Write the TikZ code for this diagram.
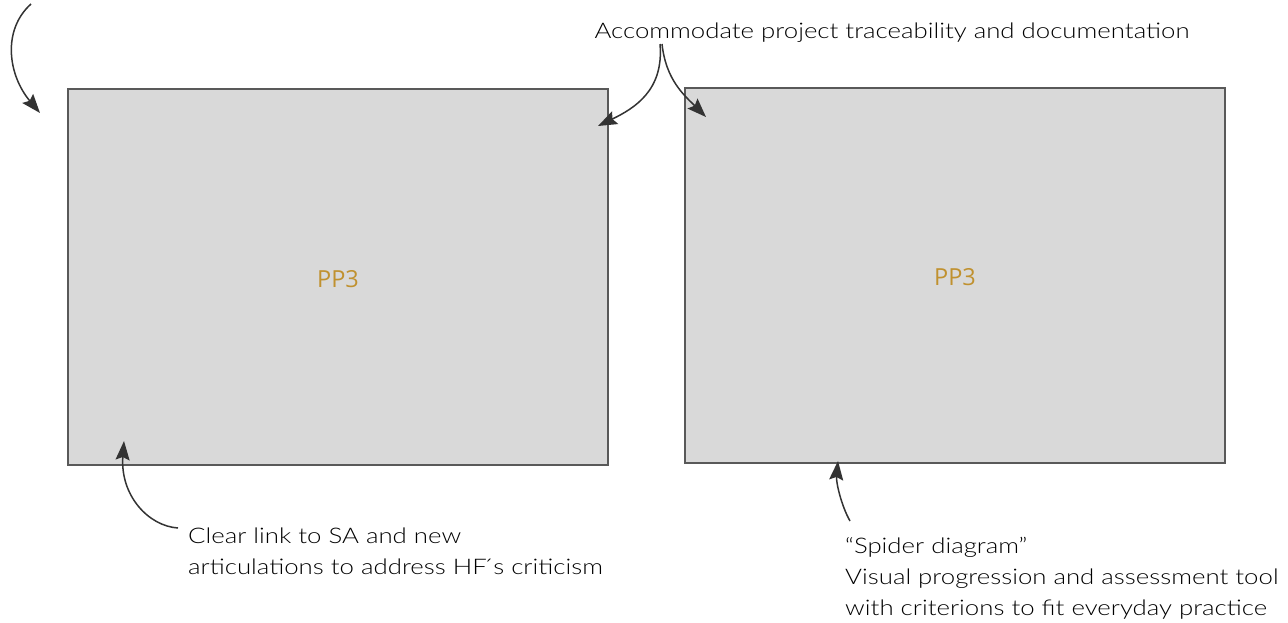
\documentclass[tikz,border=0pt]{standalone}
\usepackage{fontspec}
\setmainfont{Lato Light}[FakeStretch=1.2]
\newfontfamily\labelfont{Open Sans}
\usetikzlibrary{arrows.meta}
\definecolor{boxfill}{HTML}{D9D9D9}
\definecolor{boxline}{HTML}{595959}
\definecolor{gold}{HTML}{C0912F}
\definecolor{ink}{HTML}{333333}
\tikzset{
  panel/.style={draw=boxline, line width=1.2pt, fill=boxfill},
  pplabel/.style={text=gold, font=\labelfont\fontsize{23.5}{28}\selectfont},
  note/.style={text=black, font=\fontsize{21.5}{31}\selectfont, align=left, inner sep=0pt},
  callout/.style={draw=ink, line width=1.5pt, -{Stealth[length=19pt,width=14pt,inset=3pt]}}
}
\begin{document}
\begin{tikzpicture}[x=1pt,y=-1pt]
\useasboundingbox (0,0) rectangle (1288,622);
% panels
\draw[panel] (68,89) rectangle (608,465);
\draw[panel] (685,88) rectangle (1225,463);
\coordinate (p1nw) at (40,113);
\coordinate (p1ne) at (598,126);
\coordinate (p1sw) at (124,441);
\coordinate (p2nw) at (706,117);
\coordinate (p2s) at (838,461);
\node[pplabel] (pa) at (338,279) {PP3};
\node[pplabel] (pb) at (955,277) {PP3};
% notes (anchored at the baseline of their last line)
\node[note, anchor=base] (acc) at (892,38) {Accommodate project traceability and documentation};
\node[note, anchor=base west] (clear) at (188,574) {Clear link to SA and new\\articulations to address HF\'{}s criticism};
\node[note, anchor=base west] (spider) at (845,615) {``Spider diagram''\\Visual progression and assessment tool\\with criterions to fit everyday practice};
% free ends of the callouts
\coordinate (tl) at (31,4);
\coordinate (accl) at (660,44);
\coordinate (accr) at (662,44);
\coordinate (clr) at (178,528);
\coordinate (spd) at (850,521);
% callouts
\draw[callout] (tl) .. controls (2,30) and (8,75) .. (p1nw);
\draw[callout] (accl) .. controls (664,90) and (635,108) .. (p1ne);
\draw[callout] (accr) .. controls (666,80) and (684,95) .. (p2nw);
\draw[callout] (clr) .. controls (148,526) and (120,495) .. (p1sw);
\draw[callout] (spd) .. controls (841,505) and (836,482) .. (p2s);
\end{tikzpicture}
\end{document}
